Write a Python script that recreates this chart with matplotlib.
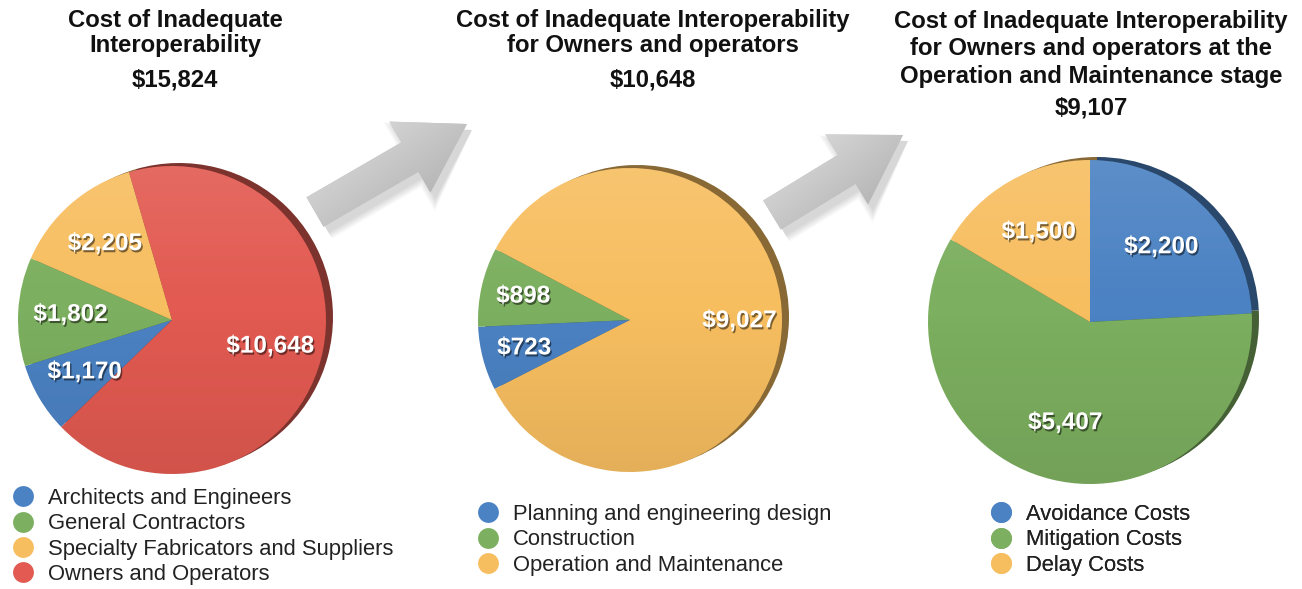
import numpy as np
import matplotlib.pyplot as plt
import matplotlib.patheffects as pe
from matplotlib.patches import Circle, FancyArrow
from matplotlib.lines import Line2D
from matplotlib.colors import to_rgb

plt.rcParams['font.family'] = ['Liberation Sans', 'DejaVu Sans']

BLUE = '#4b82c3'
GREEN = '#7caf5f'
YELLOW = '#f7be60'
RED = '#e25a51'

# chart 1: cost by stakeholder
firms = ['Architects and Engineers', 'General Contractors',
         'Specialty Fabricators and Suppliers', 'Owners and Operators']
firm_costs = [1170, 1802, 2205, 10648]
firm_title = 'Cost of Inadequate\nInteroperability'
firm_total = '$15,824'

# chart 2: owners and operators by phase
phases = ['Planning and engineering design', 'Construction', 'Operation and Maintenance']
phase_costs = [723, 898, 9027]
phase_title = 'Cost of Inadequate Interoperability\nfor Owners and operators'
phase_total = '$10,648'

# chart 3: O&M stage by cost type
om_types = ['Avoidance Costs', 'Mitigation Costs', 'Delay Costs']
om_costs = [2200, 5407, 1500]
om_title = ('Cost of Inadequate Interoperability\nfor Owners and operators at the\n'
            'Operation and Maintenance stage')
om_total = '$9,107'

W, H = 1302, 589


def py(y):
    # pixel row (from top) -> data y
    return H - y


def darken(c, f=0.55):
    r, g, b = to_rgb(c)
    return (r * f, g * f, b * f)


def draw_pie(ax, values, colors, center, radius, startangle, pctdist):
    total = sum(values)
    # dark rim peeking out at the upper right
    ax.pie(values, colors=[darken(c) for c in colors], startangle=startangle,
           counterclock=False, center=(center[0] + 7, center[1] + 3), radius=radius,
           wedgeprops=dict(linewidth=0))
    wedges, _, autotexts = ax.pie(
        values, colors=colors, startangle=startangle, counterclock=False,
        center=center, radius=radius, autopct=lambda p: f'${p * total / 100:,.0f}',
        pctdistance=pctdist, wedgeprops=dict(linewidth=0))
    for t in autotexts:
        t.set_color('white')
        t.set_fontweight('bold')
        t.set_fontsize(17.5)
        t.set_zorder(5)
        t.set_path_effects([pe.withSimplePatchShadow(offset=(1, -1.5), shadow_rgbFace='black', alpha=0.5)])
    # soft vertical shading
    t = np.linspace(0, 1, 256)
    grad = np.zeros((256, 1, 4))
    grad[:, 0, :3] = np.where(t < 0.45, 1.0, 0.0)[:, None]
    grad[:, 0, 3] = np.where(t < 0.45, 0.10 * (0.45 - t) / 0.45, 0.08 * (t - 0.45) / 0.55)
    clip = Circle(center, radius, transform=ax.transData)
    im = ax.imshow(grad, extent=[center[0] - radius, center[0] + radius,
                                 center[1] - radius, center[1] + radius],
                   origin='upper', aspect='auto', zorder=2)
    im.set_clip_path(clip)


def draw_arrow(ax, tail, tip):
    dx, dy = tip[0] - tail[0], tip[1] - tail[1]
    kw = dict(width=34, head_width=82, head_length=66, length_includes_head=True)
    # blurred drop shadow
    for k in range(8):
        ax.add_patch(FancyArrow(tail[0] + 5, tail[1] - 6, dx, dy, facecolor='black',
                                edgecolor='none', alpha=0.018, zorder=0.3,
                                width=34 + 2 * k, head_width=82 + 3 * k, head_length=66 + k,
                                length_includes_head=True))
    arr = FancyArrow(tail[0], tail[1], dx, dy, facecolor='#c8c8c8', edgecolor='none', zorder=0.5, **kw)
    ax.add_patch(arr)
    u = np.linspace(0, 1, 120)
    uu, vv = np.meshgrid(u, u)
    shade = 0.90 - 0.30 * (0.45 * uu + 0.55 * vv)
    img = np.dstack([shade, shade, shade])
    x0, x1 = tail[0] - 10, tip[0] + 10
    y0, y1 = tail[1] - 60, tip[1] + 10
    im = ax.imshow(img, extent=[x0, x1, y0, y1], origin='upper', aspect='auto', zorder=0.6)
    im.set_clip_path(arr)


fig = plt.figure(figsize=(W / 100, H / 100), dpi=100)
ax = fig.add_axes([0, 0, 1, 1])

draw_arrow(ax, (315, py(212)), (467, py(124)))
draw_arrow(ax, (772, py(215)), (903, py(135)))

draw_pie(ax, firm_costs, [BLUE, GREEN, YELLOW, RED], (172, py(320)), 154, 224, 0.66)
draw_pie(ax, phase_costs, [BLUE, GREEN, YELLOW], (630, py(320)), 152, 207, 0.72)
draw_pie(ax, om_costs, [BLUE, GREEN, YELLOW], (1090, py(322)), 162, 90, 0.64)

title_kw = dict(ha='center', va='center', fontsize=17.2, fontweight='bold', color='#111111',
                linespacing=1.15)
ax.text(175, py(33), firm_title, **title_kw)
ax.text(175, py(80), firm_total, **title_kw)
ax.text(653, py(33), phase_title, **title_kw)
ax.text(653, py(80), phase_total, **title_kw)
ax.text(1091, py(49), om_title, linespacing=1.25,
        **{k: v for k, v in title_kw.items() if k != 'linespacing'})
ax.text(1091, py(108), om_total, **title_kw)


def add_legend(ax, labels, colors, x, y):
    handles = [Line2D([], [], marker='o', linestyle='', markersize=15,
                      markerfacecolor=c, markeredgewidth=0) for c in colors]
    leg = ax.legend(handles, labels, loc='upper left', bbox_to_anchor=(x, y),
                    bbox_transform=ax.transData, frameon=False, fontsize=15.8,
                    handlelength=1, handletextpad=0.65, labelspacing=0.2,
                    borderpad=0, borderaxespad=0)
    for txt in leg.get_texts():
        txt.set_color('#222222')
    ax.add_artist(leg)


add_legend(ax, firms, [BLUE, GREEN, YELLOW, RED], 12, py(488))
add_legend(ax, phases, [BLUE, GREEN, YELLOW], 477, py(504))
add_legend(ax, om_types, [BLUE, GREEN, YELLOW], 990, py(504))

ax.set_xlim(0, W)
ax.set_ylim(0, H)
ax.set_aspect('equal')
ax.axis('off')

fig.savefig('out.png', dpi=100)
